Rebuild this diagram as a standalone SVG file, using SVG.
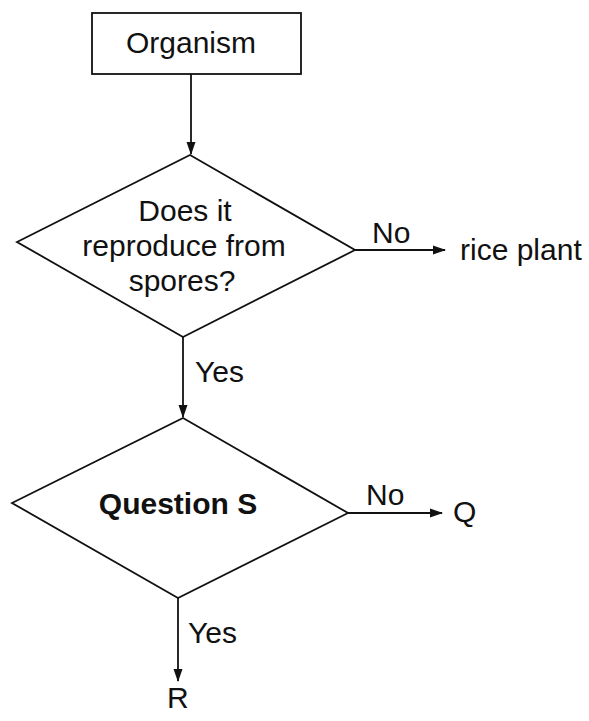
<svg xmlns="http://www.w3.org/2000/svg" width="589" height="721" viewBox="0 0 589 721">
<style>
.shape{fill:#fff;stroke:#111;stroke-width:1.8}
.conn{fill:none;stroke:#111;stroke-width:1.8}
text{font-family:"Liberation Sans",Arial,sans-serif;font-size:30px;fill:#111}
.c{text-anchor:middle}
.b{font-weight:bold}
</style>
<defs>
<marker id="ah" markerWidth="13" markerHeight="10" refX="12" refY="5" orient="auto" markerUnits="userSpaceOnUse">
<path d="M0,0.5 L13,5 L0,9.5 Z" fill="#111"/>
</marker>
</defs>
<rect width="589" height="721" fill="#fff"/>
<g id="connectors">
<line class="conn" x1="191" y1="74" x2="191" y2="154" marker-end="url(#ah)"/>
<line class="conn" x1="355" y1="250" x2="445" y2="250" marker-end="url(#ah)"/>
<line class="conn" x1="183" y1="337" x2="183" y2="417" marker-end="url(#ah)"/>
<line class="conn" x1="348" y1="513" x2="442" y2="513" marker-end="url(#ah)"/>
<line class="conn" x1="178" y1="598" x2="178" y2="681" marker-end="url(#ah)"/>
<text x="372" y="243">No</text>
<text x="195" y="382">Yes</text>
<text x="366" y="505">No</text>
<text x="188" y="643">Yes</text>
</g>
<g id="organism">
<rect class="shape" x="92" y="13" width="209" height="61"/>
<text class="c" x="191" y="53">Organism</text>
</g>
<g id="q1">
<polygon class="shape" points="190,155 355,250 183,337 17,242"/>
<text class="c" x="185" y="221">Does it</text>
<text class="c" x="184" y="256">reproduce from</text>
<text class="c" x="182" y="291">spores?</text>
</g>
<g id="rice">
<text x="460" y="260">rice plant</text>
</g>
<g id="q2">
<polygon class="shape" points="183,418 348,513 178,598 12,503"/>
<text class="c b" x="178" y="514">Question S</text>
</g>
<g id="Q">
<text x="453" y="522">Q</text>
</g>
<g id="R">
<text x="167" y="708">R</text>
</g>
</svg>
